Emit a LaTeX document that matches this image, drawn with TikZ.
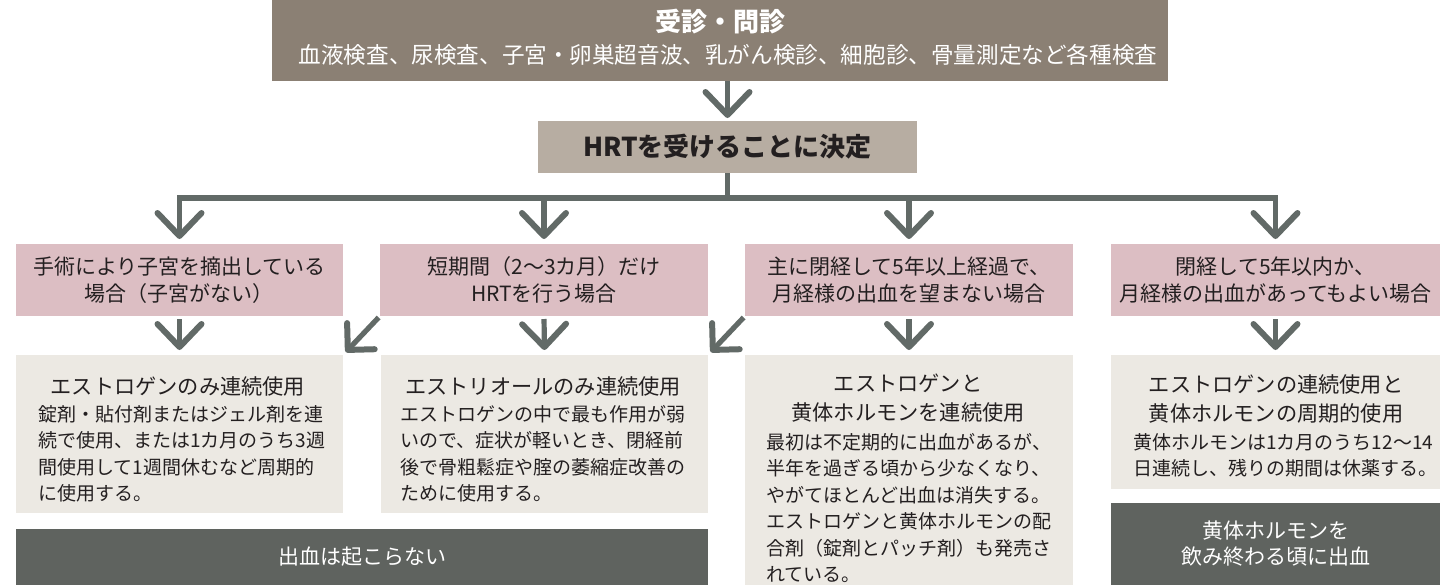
\documentclass[tikz,border=0pt]{standalone}
\usepackage{fontspec}
\setmainfont{Noto Sans CJK JP}
\usetikzlibrary{arrows.meta}
\definecolor{topc}{HTML}{8B8074}
\definecolor{hrtc}{HTML}{B7ADA2}
\definecolor{pinkc}{HTML}{DCBEC3}
\definecolor{greyc}{HTML}{ECE9E3}
\definecolor{darkc}{HTML}{5F635F}
\definecolor{arrc}{HTML}{626A67}
\definecolor{inkc}{HTML}{231F20}
\begin{document}
\begin{tikzpicture}[x=0.5pt,y=-0.5pt,
  box/.style={rectangle, inner sep=0pt, outer sep=0pt, draw=none},
  topbox/.style={box, fill=topc},
  hrtbox/.style={box, fill=hrtc, text=inkc, font=\fontsize{13}{15}\selectfont\bfseries},
  pinkbox/.style={box, fill=pinkc, text=inkc, align=center, font=\fontsize{10.5}{13.5}\selectfont},
  greybox/.style={box, fill=greyc},
  darkbox/.style={box, fill=darkc, text=white, align=center, font=\fontsize{10.5}{13}\selectfont},
  head/.style={inner sep=0pt, text=inkc, align=center, font=\fontsize{10.6}{14.5}\selectfont},
  body/.style={inner sep=0pt, text=inkc, align=left, anchor=north west, font=\fontsize{9.5}{13.2}\selectfont},
  conn/.style={draw=arrc, line width=2.6pt},
  arr/.style={conn, -{Straight Barb[length=11.5pt,width=22pt,line width=3pt,round]}, shorten >=2.5pt},
  darr/.style={conn, -{Straight Barb[length=9.5pt,width=19pt,line width=3pt,round]}, shorten >=2pt, shorten <=1pt}
]
\useasboundingbox (0,0) rectangle (1448,585);
% boxes
\node[topbox, minimum width=448pt, minimum height=40.5pt] (top) at (720,40.5) {};
\node[inner sep=0pt, text=white, font=\fontsize{13}{16}\selectfont\bfseries] (toptitle) at (720,22) {受診・問診};
\node[inner sep=0pt, text=white, font=\fontsize{11.3}{14}\selectfont] (topsub) at (728,55) {血液検査、尿検査、子宮・卵巣超音波、乳がん検診、細胞診、骨量測定など各種検査};
\node[hrtbox, minimum width=189.5pt, minimum height=26pt] (hrt) at (727.5,147) {HRTを受けることに決定};

\node[pinkbox, minimum width=163.5pt, minimum height=36pt] (p1) at (179.5,280) {手術により子宮を摘出している\\場合（子宮がない）};
\node[pinkbox, minimum width=164pt, minimum height=36pt] (p2) at (544,280) {短期間（2〜3カ月）だけ\\HRTを行う場合};
\node[pinkbox, minimum width=164pt, minimum height=36pt] (p3) at (909,280) {主に閉経して5年以上経過で、\\月経様の出血を望まない場合};
\node[pinkbox, minimum width=164.5pt, minimum height=36pt] (p4) at (1275.5,280) {閉経して5年以内か、\\月経様の出血があってもよい場合};

\node[greybox, minimum width=163.5pt, minimum height=79pt] (g1) at (179.5,434) {};
\node[greybox, minimum width=163.5pt, minimum height=79pt] (g2) at (544.5,434) {};
\node[greybox, minimum width=164pt, minimum height=115pt] (g3) at (909,470) {};
\node[greybox, minimum width=164.5pt, minimum height=67pt] (g4) at (1275.5,422) {};

\node[darkbox, minimum width=346pt, minimum height=28pt] (d1) at (362,557) {出血は起こらない};
\node[darkbox, minimum width=164.5pt, minimum height=41pt] (d4) at (1275.5,544) {黄体ホルモンを\\飲み終わる頃に出血};

% grey box texts
\node[head] (g1h) at (178,386) {エストロゲンのみ連続使用};
\node[body] (g1b) at (38,405) {錠剤・貼付剤またはジェル剤を連\\続で使用、または1カ月のうち3週\\間使用して1週間休むなど周期的\\に使用する。};
\node[head] (g2h) at (543,386) {エストリオールのみ連続使用};
\node[body] (g2b) at (400,405) {エストロゲンの中で最も作用が弱\\いので、症状が軽いとき、閉経前\\後で骨粗鬆症や腟の萎縮症改善の\\ために使用する。};
\node[head] (g3h) at (908,398) {エストロゲンと\\黄体ホルモンを連続使用};
\node[body] (g3b) at (766,433) {最初は不定期的に出血があるが、\\半年を過ぎる頃から少なくなり、\\やがてほとんど出血は消失する。\\エストロゲンと黄体ホルモンの配\\合剤（錠剤とパッチ剤）も発売さ\\れている。};
\node[head] (g4h) at (1276,399) {エストロゲンの連続使用と\\黄体ホルモンの周期的使用};
\node[body] (g4b) at (1133,433) {黄体ホルモンは1カ月のうち12〜14\\日連続し、残りの期間は休薬する。};

% connectors
\coordinate (bar) at (0,198);
\draw[arr, shorten >=1.5pt] (hrt.north |- top.south) -- (hrt.north);
\draw[conn] (hrt.south) -- (hrt.south |- bar);
\draw[conn, line cap=rect] (bar -| p1.north) -- (bar -| p4.north);
\draw[arr] (bar -| p1.north) -- (p1.north);
\draw[arr] (bar -| p2.north) -- (p2.north);
\draw[arr] (bar -| p3.north) -- (p3.north);
\draw[arr] (bar -| p4.north) -- (p4.north);

\draw[arr, shorten <=1.5pt] (p1.south) -- (g1.north);
\draw[arr, shorten <=1.5pt] (p2.south) -- (g2.north);
\draw[arr, shorten <=1.5pt] (p3.south) -- (g3.north);
\draw[arr, shorten <=1.5pt] (p4.south) -- (g4.north);
\draw[darr] (p2.south west) -- (g1.north east);
\draw[darr] (p3.south west) -- (g2.north east);
\end{tikzpicture}
\end{document}
